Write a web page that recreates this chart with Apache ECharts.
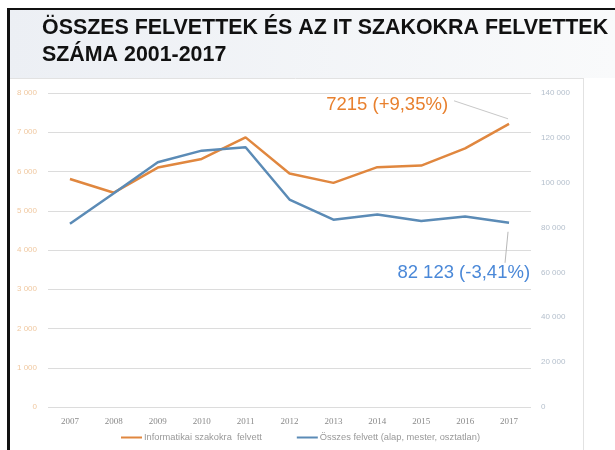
<!DOCTYPE html>
<html><head><meta charset="utf-8">
<script src="https://cdn.jsdelivr.net/npm/echarts@6/dist/echarts.min.js"></script>
<style>html,body{margin:0;padding:0;background:#fff}#c{width:615px;height:450px}</style>
</head><body><div id="c"></div>
<script>
var years = ['2007','2008','2009','2010','2011','2012','2013','2014','2015','2016','2017'];
var itValues = [5810, 5460, 6100, 6320, 6870, 5950, 5710, 6110, 6150, 6590, 7215];
var totalValues = [81700, 95300, 109100, 114300, 115800, 92500, 83500, 85800, 82900, 84900, 82123];
var itName = 'Informatikai szakokra  felvett';
var totalName = 'Összes felvett (alap, mester, osztatlan)';
var titleLines = ['ÖSSZES FELVETTEK ÉS AZ IT SZAKOKRA FELVETTEK', 'SZÁMA 2001-2017'];
var itNote = '7215 (+9,35%)';
var totalNote = '82 123 (-3,41%)';

var orange = '#E0873F', blue = '#5B8BB6';
function fmt(v){ return String(v).replace(/\B(?=(\d{3})+(?!\d))/g, ' '); }

var chart = echarts.init(document.getElementById('c'));
chart.setOption({
  animation: false,
  backgroundColor: '#fff',
  textStyle: { fontFamily: 'Liberation Sans, Arial, sans-serif' },
  grid: { left: 48, right: 84, top: 93, bottom: 43 },
  legend: {
    bottom: 3, left: 116, itemWidth: 21, itemHeight: 2, itemGap: 35,
    icon: 'rect',
    textStyle: { color: '#999', fontSize: 9.3, padding: [0, 0, 0, -3], fontFamily: 'Liberation Sans Narrow, Liberation Sans, sans-serif' },
    data: [itName, totalName]
  },
  xAxis: {
    type: 'category', data: years, boundaryGap: true,
    axisLine: { show: false }, axisTick: { show: false },
    axisLabel: { color: '#8a8a8a', fontSize: 9, margin: 10, fontFamily: 'Liberation Serif, serif' }
  },
  yAxis: [{
    type: 'value', min: 0, max: 8000, interval: 1000, position: 'left',
    axisLine: { show: false }, axisTick: { show: false },
    splitLine: { lineStyle: { color: '#dcdcdc', width: 1 } },
    axisLabel: { color: '#f0c8a0', fontSize: 8, margin: 11, formatter: fmt }
  }, {
    type: 'value', min: 0, max: 140000, interval: 20000, position: 'right',
    axisLine: { show: false }, axisTick: { show: false },
    splitLine: { show: false },
    axisLabel: { color: '#b4bfcc', fontSize: 8, margin: 10, formatter: fmt }
  }],
  series: [{
    name: itName, type: 'line', data: itValues, yAxisIndex: 0,
    symbol: 'none', lineStyle: { color: orange, width: 2.5 }, itemStyle: { color: orange }
  }, {
    name: totalName, type: 'line', data: totalValues, yAxisIndex: 1,
    symbol: 'none', lineStyle: { color: blue, width: 2.5 }, itemStyle: { color: blue }
  }]
});

var last = years.length - 1;
var pIt = chart.convertToPixel({ xAxisIndex: 0, yAxisIndex: 0 }, [last, itValues[last]]);
var pTot = chart.convertToPixel({ xAxisIndex: 0, yAxisIndex: 1 }, [last, totalValues[last]]);

chart.setOption({
  graphic: [
    { type: 'rect', z: -10, shape: { x: 8, y: 8, width: 607, height: 70 },
      style: { fill: new echarts.graphic.LinearGradient(0, 0, 1, 0, [{ offset: 0, color: '#eceff4' }, { offset: 1, color: '#f9fafb' }]) } },
    { type: 'line', shape: { x1: 8, y1: 78.5, x2: 583, y2: 78.5 }, style: { stroke: '#e2e2e2', lineWidth: 1 } },
    { type: 'line', shape: { x1: 583.5, y1: 78, x2: 583.5, y2: 450 }, style: { stroke: '#e2e2e2', lineWidth: 1 } },
    { type: 'rect', shape: { x: 7, y: 8, width: 3, height: 442 }, style: { fill: '#111' } },
    { type: 'rect', shape: { x: 7, y: 8, width: 608, height: 2 }, style: { fill: '#111' } },
    { type: 'text', left: 42, top: 18, style: { text: titleLines[0], fill: '#111', fontSize: 21.4, fontWeight: 'bold', fontFamily: 'Liberation Sans, Arial, sans-serif' } },
    { type: 'text', left: 42, top: 45, style: { text: titleLines[1], fill: '#111', fontSize: 21.4, fontWeight: 'bold', fontFamily: 'Liberation Sans, Arial, sans-serif' } },
    { type: 'line', shape: { x1: pIt[0] - 55, y1: pIt[1] - 23, x2: pIt[0] - 1, y2: pIt[1] - 5 }, style: { stroke: '#c8c8c8', lineWidth: 1 } },
    { type: 'text', x: pIt[0] - 61, y: pIt[1] - 19, style: { text: itNote, fill: '#E8802E', fontSize: 18.5, align: 'right', verticalAlign: 'middle', fontFamily: 'Liberation Sans, Arial, sans-serif' } },
    { type: 'line', shape: { x1: pTot[0] - 1, y1: pTot[1] + 9, x2: pTot[0] - 4, y2: pTot[1] + 40 }, style: { stroke: '#b8b8b8', lineWidth: 1 } },
    { type: 'text', x: pTot[0] + 21, y: pTot[1] + 50, style: { text: totalNote, fill: '#4A88D8', fontSize: 18.5, align: 'right', verticalAlign: 'middle', fontFamily: 'Liberation Sans, Arial, sans-serif' } }
  ]
});
</script></body></html>
